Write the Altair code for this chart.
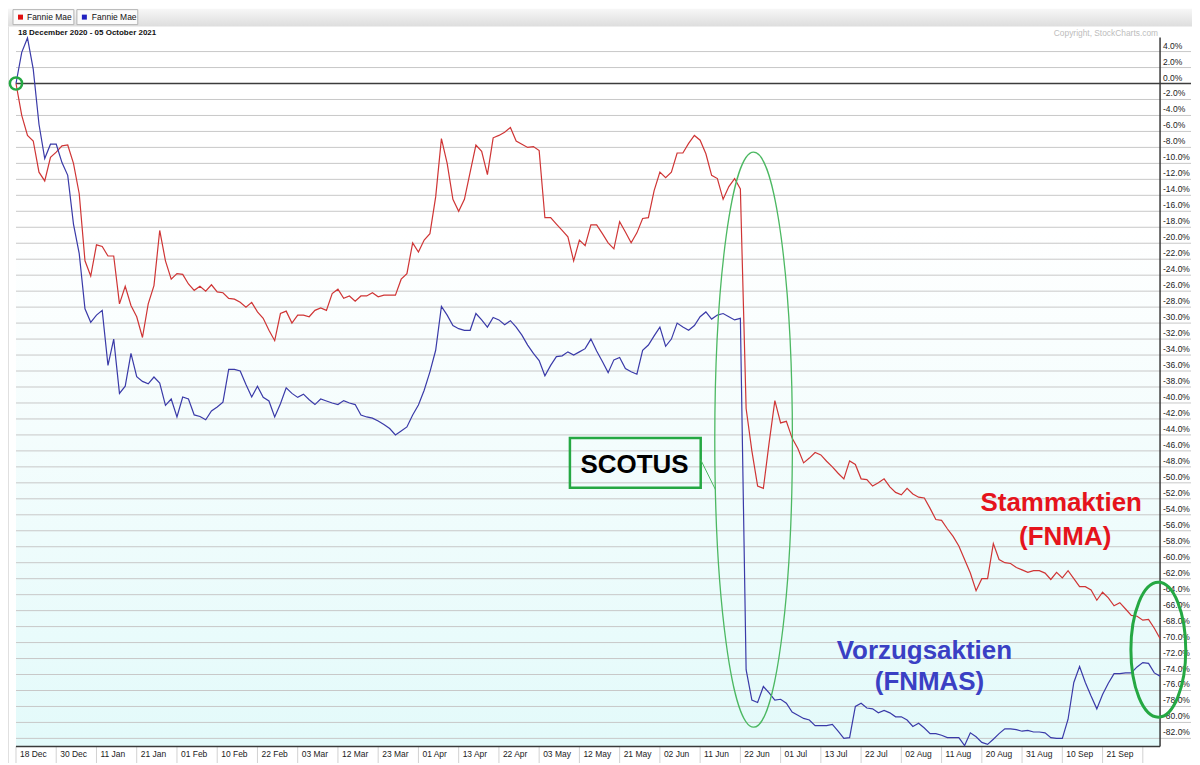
import altair as alt
import pandas as pd

# ---------------- data ----------------
series_names = ["FNMA", "FNMAS"]
legend_names = ["Fannie Mae", "Fannie Mae"]

# Stammaktien (red), % change since 18 Dec 2020, one value per trading day
fnma = [
    0.0, -4.0, -6.5, -7.2, -11.1, -12.2, -9.25, -8.6, -7.8, -7.7,
    -10.0, -13.8, -22.2, -24.1, -20.2, -20.4, -21.6, -21.6, -27.6, -25.4,
    -27.8, -29.2, -31.8, -27.6, -25.3, -18.4, -22.2, -24.5, -23.8, -23.9,
    -25.1, -25.9, -25.4, -26.0, -25.2, -26.1, -26.2, -26.9, -27.0, -27.4,
    -28.0, -27.4, -28.6, -29.4, -30.9, -32.2, -28.8, -28.5, -30.0, -29.0,
    -29.0, -29.2, -28.4, -28.1, -28.4, -26.3, -25.75, -26.9, -26.6, -27.25,
    -26.6, -26.6, -26.2, -26.7, -26.5, -26.5, -26.5, -24.5, -23.8, -19.95,
    -21.1, -19.6, -18.8, -14.2, -6.9, -10.0, -14.5, -16.0, -14.5, -11.1,
    -7.7, -8.5, -11.4, -6.8, -6.5, -6.1, -5.5, -7.2, -7.6, -8.0,
    -7.9, -8.4, -16.8, -16.8, -17.6, -18.4, -19.2, -22.2, -19.6, -20.3,
    -17.7, -17.7, -18.8, -19.95, -20.7, -17.3, -18.6, -19.95, -18.7, -16.9,
    -16.8, -13.4, -11.1, -11.8, -11.1, -8.7, -8.7, -7.5, -6.5, -7.1,
    -8.8, -11.5, -11.9, -14.5, -12.9, -11.9, -13.2, -40.7, -46.0, -50.4,
    -50.7, -45.0, -39.7, -42.5, -42.3, -44.4, -45.7, -47.5, -46.9, -46.2,
    -46.5, -47.3, -48.0, -48.8, -49.5, -47.25, -47.7, -49.5, -49.6, -50.4,
    -50.0, -49.5, -50.5, -51.2, -51.5, -50.7, -51.4, -51.8, -51.9, -53.2,
    -54.6, -54.7, -55.75, -56.7, -57.9, -59.6, -61.3, -63.5, -62.0, -62.0,
    -57.6, -59.6, -60.0, -60.1, -60.6, -60.9, -61.2, -61.0, -61.0, -61.3,
    -62.1, -61.2, -61.9, -61.0, -62.0, -63.0, -63.0, -63.4, -64.7, -63.7,
    -64.4, -65.4, -65.0, -65.8, -66.6, -66.7, -67.2, -67.1, -68.2, -69.5,
]

# Vorzugsaktien (blue)
fnmas = [
    0.0, 3.9, 5.7, 1.8, -5.1, -9.4, -7.6, -7.6, -9.9, -11.5,
    -17.6, -21.3, -28.2, -29.9, -29.0, -28.4, -35.3, -32.0, -38.8, -37.9,
    -33.8, -36.7, -37.3, -37.6, -36.75, -37.5, -40.3, -39.5, -41.75, -39.25,
    -39.5, -41.5, -41.7, -42.1, -41.0, -40.5, -39.9, -35.8, -35.8, -36.0,
    -37.7, -39.25, -37.9, -39.3, -39.75, -41.75, -40.1, -38.1, -38.8, -39.3,
    -38.9, -39.6, -40.2, -39.5, -39.75, -40.0, -40.2, -39.7, -40.0, -40.2,
    -41.5, -41.75, -41.9, -42.25, -42.7, -43.2, -44.0, -43.5, -43.0, -41.5,
    -40.25, -38.4, -36.1, -33.4, -27.9, -29.0, -30.3, -30.7, -30.9, -30.9,
    -28.8, -29.6, -30.5, -29.3, -29.6, -30.2, -29.7, -30.5, -31.5, -32.75,
    -33.8, -34.7, -36.6, -35.3, -34.2, -34.1, -33.6, -34.0, -33.6, -33.2,
    -32.0, -33.5, -34.8, -36.2, -34.6, -34.3, -35.7, -36.1, -36.4, -33.4,
    -32.75, -31.6, -30.5, -32.9, -32.0, -30.0, -30.5, -30.9, -30.3, -29.2,
    -28.6, -29.5, -29.0, -28.8, -29.2, -29.6, -29.4, -73.4, -77.2, -77.5,
    -75.5, -76.3, -77.2, -77.1, -77.6, -78.7, -79.1, -79.5, -79.7, -80.4,
    -80.4, -80.4, -80.25, -81.1, -82.0, -81.9, -78.0, -77.6, -78.2, -78.3,
    -78.8, -78.5, -78.8, -79.3, -79.3, -79.7, -80.5, -80.1, -80.7, -81.4,
    -81.4, -81.6, -81.9, -81.9, -81.9, -82.9, -81.3, -81.8, -82.5, -82.75,
    -82.1, -81.4, -80.8, -80.8, -80.9, -81.1, -81.0, -81.2, -81.2, -81.3,
    -81.9, -82.0, -82.0, -79.6, -75.0, -73.0, -75.0, -76.7, -78.3, -76.5,
    -75.1, -73.9, -73.9, -73.8, -73.8, -73.05, -72.5, -72.6, -73.8, -74.2,
]

tick_labels = [
    "18 Dec", "30 Dec", "11 Jan", "21 Jan", "01 Feb", "10 Feb", "22 Feb",
    "03 Mar", "12 Mar", "23 Mar", "01 Apr", "13 Apr", "22 Apr", "03 May",
    "12 May", "21 May", "02 Jun", "11 Jun", "22 Jun", "01 Jul", "13 Jul",
    "22 Jul", "02 Aug", "11 Aug", "20 Aug", "31 Aug", "10 Sep", "21 Sep", "",
]
tick_step = 7
y_levels = list(range(-82, 5, 2))
y_labels = [f"{v:.1f}%" for v in y_levels]

date_range_text = "18 December 2020 - 05 October 2021"
copyright_text = "Copyright, StockCharts.com"
scotus_text = "SCOTUS"
label_texts = ["Stammaktien", "(FNMA)", "Vorzugsaktien", "(FNMAS)"]

# ---------------- styling ----------------
RED = "#cf3535"
BLUE = "#3a3aa8"
RED_TXT = "#e5141c"
BLUE_TXT = "#3a40c4"
GREEN = "#25a843"
GREEN_THIN = "#4cb862"
AXIS_DARK = "#3a3a3a"
FONT = "Liberation Sans"
W, H = 1146, 721

n = len(fnma)
df = pd.DataFrame({
    "day": list(range(n)) * 2,
    "pct": fnma + fnmas,
    "series": [series_names[0]] * n + [series_names[1]] * n,
})
xt = pd.DataFrame({"day": list(range(0, n, tick_step)), "lab": tick_labels})
yt = pd.DataFrame({"g": y_levels, "lab": y_labels})

xs = alt.Scale(domain=[0, n - 1], nice=False, zero=False)
ys = alt.Scale(domain=[-83, 7.125], nice=False, zero=False)


def X(f):
    return alt.X(f, scale=xs, axis=None)


def Y(f):
    return alt.Y(f, scale=ys, axis=None)


one = pd.DataFrame({"k": [0]})

# background gradient of the plot area
bg = alt.Chart(one).mark_rect(
    fill=alt.LinearGradient(
        gradient="linear", x1=0, x2=0, y1=0, y2=1,
        stops=[alt.GradientStop(color="#ffffff", offset=0),
               alt.GradientStop(color="#ffffff", offset=0.28),
               alt.GradientStop(color="#e3fafa", offset=1)],
    )
).encode(x=alt.value(0), x2=alt.value(W), y=alt.value(0), y2=alt.value(H))

left_border = alt.Chart(one).mark_rule(color="#e0e0e0", strokeWidth=1).encode(
    x=alt.value(-7.5), y=alt.value(0), y2=alt.value(H + 18))

grid = alt.Chart(yt).mark_rule(color="#c8c8c8", strokeWidth=1).encode(
    y=Y("g:Q"), x=alt.value(0), x2=alt.value(W + 31))

zero = alt.Chart(pd.DataFrame({"g": [0]})).mark_rule(color="#3c3c3c", strokeWidth=1.3).encode(
    y=Y("g:Q"), x=alt.value(0), x2=alt.value(W + 31))

# axis elements (ticks, labels, frame)
xticks = alt.Chart(xt).mark_rule(color="#d2d2d2", strokeWidth=1).encode(
    x=X("day:Q"), y=alt.value(H), y2=alt.value(H + 18))
xlabels = alt.Chart(xt).mark_text(
    font=FONT, fontSize=8.5, color="#222222", align="left", baseline="middle", dx=4
).encode(x=X("day:Q"), y=alt.value(H + 8), text="lab:N")
ylabels = alt.Chart(yt).mark_text(
    font=FONT, fontSize=8.5, color="#222222", align="left", baseline="bottom", dy=-1
).encode(x=alt.value(W + 3), y=Y("g:Q"), text="lab:N")
frame_bottom = alt.Chart(one).mark_rule(color=AXIS_DARK, strokeWidth=1.5).encode(
    x=alt.value(0), x2=alt.value(W), y=alt.value(H))
frame_right = alt.Chart(one).mark_rule(color=AXIS_DARK, strokeWidth=1.5).encode(
    x=alt.value(W), y=alt.value(11), y2=alt.value(H))

lines = alt.Chart(df).mark_line(strokeWidth=1.2).encode(
    x=X("day:Q"), y=Y("pct:Q"),
    color=alt.Color("series:N", scale=alt.Scale(domain=series_names, range=[RED, BLUE]), legend=None),
    detail="series:N",
)


def ellipse_path(a):
    k = 0.5523
    return (f"M0,-1 C{a*k:.4f},-1 {a:.4f},{-k:.4f} {a:.4f},0 "
            f"C{a:.4f},{k:.4f} {a*k:.4f},1 0,1 "
            f"C{-a*k:.4f},1 {-a:.4f},{k:.4f} {-a:.4f},0 "
            f"C{-a:.4f},{-k:.4f} {-a*k:.4f},-1 0,-1 Z")


# annotations in data coordinates
ell1 = alt.Chart(pd.DataFrame({"x": [128.3], "y": [-44.6]})).mark_point(
    shape=ellipse_path(0.135), size=576 ** 2, filled=False, color=GREEN_THIN,
    strokeWidth=1.3, opacity=1,
).encode(x=X("x:Q"), y=Y("y:Q"))

ell2 = alt.Chart(pd.DataFrame({"x": [198.7], "y": [-70.9]})).mark_point(
    shape=ellipse_path(0.407), size=135 ** 2, filled=False, color=GREEN,
    strokeWidth=3, opacity=1,
).encode(x=X("x:Q"), y=Y("y:Q"))

circ = alt.Chart(pd.DataFrame({"x": [0.0], "y": [0.0]})).mark_point(
    shape="circle", size=150, filled=False, color=GREEN, strokeWidth=2.5, opacity=1,
).encode(x=X("x:Q"), y=Y("y:Q"))

box = alt.Chart(pd.DataFrame({"x1": [96.35], "x2": [119.1], "y1": [-44.4], "y2": [-50.6]})).mark_rect(
    fill="transparent", stroke=GREEN, strokeWidth=2.5,
).encode(x=X("x1:Q"), x2="x2:Q", y=Y("y1:Q"), y2="y2:Q")

connector = alt.Chart(pd.DataFrame({"x1": [119.1], "x2": [121.7], "y1": [-47.1], "y2": [-50.9]})).mark_rule(
    color=GREEN_THIN, strokeWidth=1,
).encode(x=X("x1:Q"), x2="x2:Q", y=Y("y1:Q"), y2="y2:Q")

scotus = alt.Chart(pd.DataFrame({"t": [scotus_text], "x": [107.6], "y": [-47.75]})).mark_text(
    font=FONT, fontSize=26, fontWeight="bold", color="#000000", align="center", baseline="middle",
).encode(x=X("x:Q"), y=Y("y:Q"), text="t:N")

labels = alt.Chart(pd.DataFrame({
    "t": label_texts,
    "x": [181.8, 182.5, 158.0, 158.9],
    "y": [-52.5, -56.75, -71.1, -75.0],
    "c": [RED_TXT, RED_TXT, BLUE_TXT, BLUE_TXT],
})).mark_text(font=FONT, fontSize=26, fontWeight="bold", align="center", baseline="middle").encode(
    x=X("x:Q"), y=Y("y:Q"), text="t:N", color=alt.Color("c:N", scale=None),
)

# header strip (StockCharts style)
bar = alt.Chart(one).mark_rect(
    fill=alt.LinearGradient(
        gradient="linear", x1=0, x2=0, y1=0, y2=1,
        stops=[alt.GradientStop(color="#f7f7f7", offset=0),
               alt.GradientStop(color="#dddddd", offset=1)],
    )
).encode(x=alt.value(-8), x2=alt.value(W + 40), y=alt.value(-18), y2=alt.value(0))

buttons = alt.Chart(one).mark_rect(fill="#fbfbfb", stroke="#b4b4b4", strokeWidth=1).encode(
    x=alt.value(-3), x2=alt.value(58), y=alt.value(-17), y2=alt.value(-2))
buttons2 = alt.Chart(one).mark_rect(fill="#fbfbfb", stroke="#b4b4b4", strokeWidth=1).encode(
    x=alt.value(61), x2=alt.value(122), y=alt.value(-17), y2=alt.value(-2))
sq1 = alt.Chart(one).mark_rect(fill="#e01010").encode(
    x=alt.value(2), x2=alt.value(7), y=alt.value(-12), y2=alt.value(-7))
sq2 = alt.Chart(one).mark_rect(fill="#2020c0").encode(
    x=alt.value(66), x2=alt.value(71), y=alt.value(-12), y2=alt.value(-7))
leg1 = alt.Chart(one).mark_text(text=legend_names[0], font=FONT, fontSize=8.5, color="#111111",
                                align="left", baseline="middle").encode(x=alt.value(11), y=alt.value(-9.5))
leg2 = alt.Chart(one).mark_text(text=legend_names[1], font=FONT, fontSize=8.5, color="#111111",
                                align="left", baseline="middle").encode(x=alt.value(76), y=alt.value(-9.5))

title_txt = alt.Chart(one).mark_text(text=date_range_text, font=FONT, fontSize=8, fontWeight="bold",
                                     color="#111111", align="left", baseline="middle").encode(
    x=alt.value(2), y=alt.value(6))
copy_txt = alt.Chart(one).mark_text(text=copyright_text, font=FONT, fontSize=8.4, color="#bdbdbd",
                                    align="right", baseline="middle").encode(
    x=alt.value(W - 2), y=alt.value(6))

chart = alt.layer(
    bg, left_border, grid, zero, xticks, xlabels, ylabels, frame_bottom, frame_right,
    lines, ell1, ell2, circ, box, connector, scotus, labels,
    bar, buttons, buttons2, sq1, sq2, leg1, leg2, title_txt, copy_txt,
).properties(
    width=W, height=H,
    autosize=alt.AutoSizeParams(type="none"),
    padding={"left": 8, "top": 18, "right": 32, "bottom": 16},
    background="#ffffff",
).configure_view(stroke=None)

chart.save("out.html", embed_options={"renderer": "svg", "actions": False})
